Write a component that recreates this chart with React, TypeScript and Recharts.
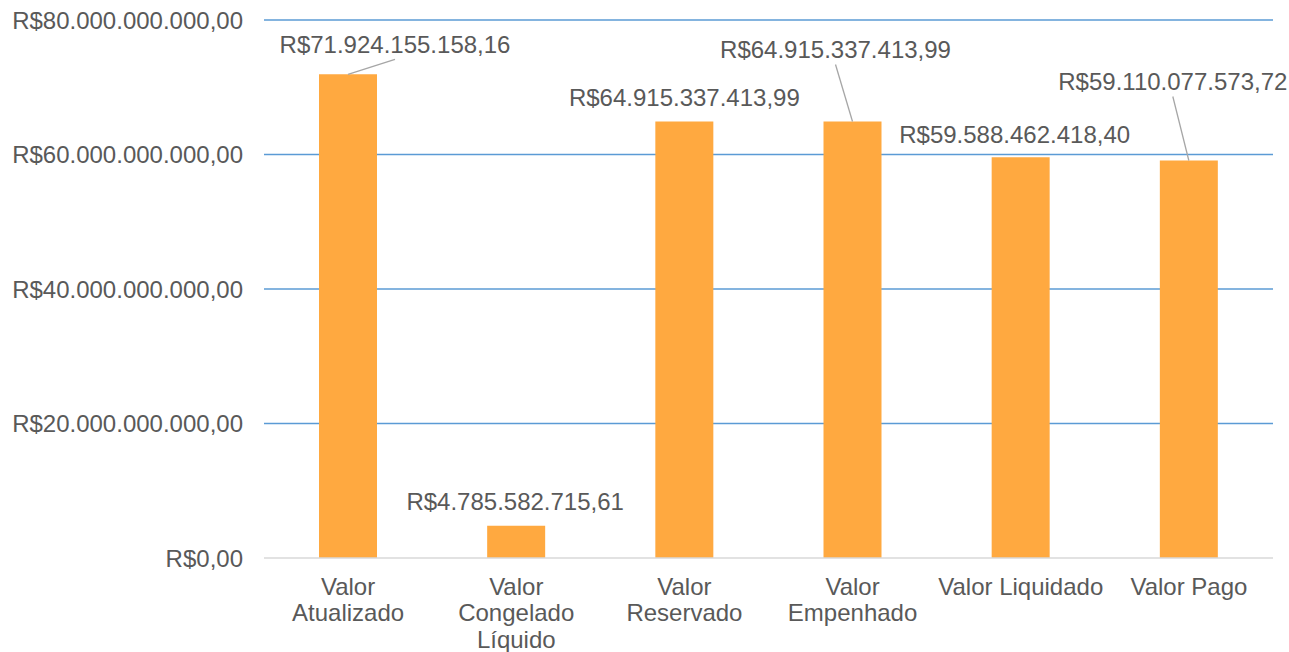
import { Bar, BarChart, CartesianGrid, LabelList, XAxis, YAxis } from "recharts";

const categories = [
  "Valor Atualizado",
  "Valor Congelado Líquido",
  "Valor Reservado",
  "Valor Empenhado",
  "Valor Liquidado",
  "Valor Pago",
];
const tickLines = [
  ["Valor", "Atualizado"],
  ["Valor", "Congelado", "Líquido"],
  ["Valor", "Reservado"],
  ["Valor", "Empenhado"],
  ["Valor Liquidado"],
  ["Valor Pago"],
];
const valores = [
  71924155158.16, 4785582715.61, 64915337413.99, 64915337413.99, 59588462418.4,
  59110077573.72,
];
const yTicks = [0, 20e9, 40e9, 60e9, 80e9];

// label placement relative to bar top centre (dx, dy, leader line?)
const labelPos: [number, number, boolean][] = [
  [47, -30, true],
  [-1, -24, false],
  [0, -24, false],
  [-17, -72, true],
  [-6, -23, false],
  [-16, -79, true],
];

const BAR = "#FFA940";
const GRID = "#5B9BD5";
const TEXT = "#595959";
const FONT = "'Liberation Sans', Arial, sans-serif";
const FS = 24;

function brl(v: number): string {
  const [int, dec] = v.toFixed(2).split(".");
  return "R$" + int.replace(/\B(?=(\d{3})+(?!\d))/g, ".") + "," + dec;
}

const data = categories.map((c, i) => ({ name: c, valor: valores[i] }));

function ValueLabel(props: any) {
  const { x, y, width, value, index } = props;
  const [dx, dy, leader] = labelPos[index];
  const cx = x + width / 2;
  const lx = cx + dx;
  const ly = y + dy;
  return (
    <g>
      {leader && <line x1={cx} y1={y} x2={lx} y2={ly + 15} stroke="#A6A6A6" strokeWidth={1.3} />}
      <text
        x={lx}
        y={ly}
        textAnchor="middle"
        dominantBaseline="central"
        fill={TEXT}
        fontSize={FS}
        fontFamily={FONT}
      >
        {brl(value)}
      </text>
    </g>
  );
}

function CatTick(props: any) {
  const { x, y, index } = props;
  const lines = tickLines[index] ?? [];
  return (
    <g>
      {lines.map((l, k) => (
        <text
          key={k}
          x={x}
          y={y + 20 + k * 26.5}
          textAnchor="middle"
          dominantBaseline="central"
          fill={TEXT}
          fontSize={FS}
          fontFamily={FONT}
        >
          {l}
        </text>
      ))}
    </g>
  );
}

export default function App() {
  return (
    <div style={{ width: 1289, height: 652, background: "#fff" }}>
      <style>{"body{margin:0}"}</style>
      <BarChart
        width={1289}
        height={652}
        data={data}
        margin={{ top: 20, right: 16, left: 8, bottom: 0 }}
      >
        <CartesianGrid
          vertical={false}
          horizontalValues={[20e9, 40e9, 60e9, 80e9]}
          stroke={GRID}
          strokeWidth={1.5}
        />
        <XAxis
          dataKey="name"
          axisLine={{ stroke: "#D9D9D9", strokeWidth: 1.5 }}
          tickLine={false}
          tick={<CatTick />}
          interval={0}
          height={94}
        />
        <YAxis
          width={256}
          domain={[0, 80e9]}
          ticks={yTicks}
          tickFormatter={brl}
          axisLine={false}
          tickLine={false}
          tickSize={0}
          tickMargin={21}
          tick={{ fill: TEXT, fontSize: FS, fontFamily: FONT }}
        />
        <Bar dataKey="valor" fill={BAR} barSize={58} isAnimationActive={false}>
          <LabelList dataKey="valor" content={<ValueLabel />} />
        </Bar>
      </BarChart>
    </div>
  );
}
